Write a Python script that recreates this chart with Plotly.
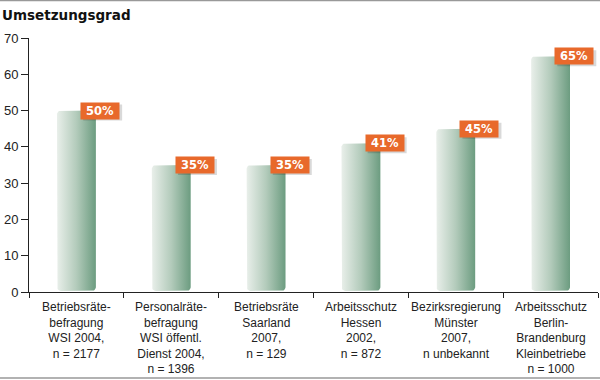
import math
import plotly.graph_objects as go

categories = [
    "Betriebsräte-<br>befragung<br>WSI 2004,<br>n = 2177",
    "Personalräte-<br>befragung<br>WSI öffentl.<br>Dienst 2004,<br>n = 1396",
    "Betriebsräte<br>Saarland<br>2007,<br>n = 129",
    "Arbeitsschutz<br>Hessen<br>2002,<br>n = 872",
    "Bezirksregierung<br>Münster<br>2007,<br>n unbekannt",
    "Arbeitsschutz<br>Berlin-<br>Brandenburg<br>Kleinbetriebe<br>n = 1000",
]
values = [50, 35, 35, 41, 45, 65]
labels = ["50%", "35%", "35%", "41%", "45%", "65%"]
y_ticks = [0, 10, 20, 30, 40, 50, 60, 70]

W, H = 600, 380
ML, MR, MT, MB = 29, 2, 38, 88
pw, ph = W - ML - MR, H - MT - MB
xr = (-0.5, len(categories) - 0.5)
yr = (0, 70)
px_x = pw / (xr[1] - xr[0])
px_y = ph / (yr[1] - yr[0])

half = 0.205
rad = 4.0
rx, ry = rad / px_x, rad / px_y

fig = go.Figure()
for i, v in enumerate(values):
    x0, x1 = i - half, i + half
    y0, y1 = 0.3, v
    xs, ys = [], []
    corners = [(x1 - rx, y1 - ry, 0, 90), (x0 + rx, y1 - ry, 90, 180),
               (x0 + rx, y0 + ry, 180, 270), (x1 - rx, y0 + ry, 270, 360)]
    for cx, cy, a0, a1 in corners:
        for k in range(7):
            a = math.radians(a0 + (a1 - a0) * k / 6)
            xs.append(cx + rx * math.cos(a))
            ys.append(cy + ry * math.sin(a))
    xs.append(xs[0]); ys.append(ys[0])
    fig.add_trace(go.Scatter(
        x=xs, y=ys, mode="lines", fill="toself", line=dict(width=0),
        fillgradient=dict(type="horizontal",
                          colorscale=[[0, "#e9efea"], [0.5, "#b3cbbb"], [1, "#6c9c80"]]),
        hoverinfo="skip", showlegend=False))

shapes = [
    dict(type="line", xref="paper", yref="paper", x0=-ML / pw, x1=1 + MR / pw,
         y0=1 + (MT - 0.5) / ph, y1=1 + (MT - 0.5) / ph, line=dict(color="#999", width=1.5)),
    dict(type="line", xref="paper", yref="paper", x0=-ML / pw, x1=1 + MR / pw,
         y0=-(MB - 2) / ph, y1=-(MB - 2) / ph, line=dict(color="#999", width=1.5)),
]
annotations = []
for i, (v, t) in enumerate(zip(values, labels)):
    shapes.append(dict(type="rect", xref="x", yref="y", xsizemode="pixel", ysizemode="pixel",
                       xanchor=i + 0.25, yanchor=v, x0=-17, x1=22, y0=-10, y1=6,
                       fillcolor="rgba(0,0,0,0.15)", line=dict(width=0), layer="above"))
    annotations.append(dict(x=i + 0.25, y=v, xref="x", yref="y",
                            text="<b>" + t + "</b>", showarrow=False,
                            font=dict(size=11.5, color="white", family="DejaVu Sans"),
                            bgcolor="#e8692b", borderpad=0, width=38, height=16))
for i, c in enumerate(categories):
    annotations.append(dict(x=i, y=0, xref="x", yref="paper", text=c, showarrow=False,
                            yanchor="top", yshift=-6, align="center",
                            font=dict(size=12, color="#222", family="Liberation Sans")))
annotations.append(dict(x=0, y=1, xref="paper", yref="paper", xanchor="left", yanchor="bottom",
                        xshift=-ML, yshift=13, text="<b>Umsetzungsgrad</b>", showarrow=False,
                        font=dict(size=13.5, color="#111", family="DejaVu Sans")))

fig.update_layout(
    width=W, height=H, margin=dict(l=ML, r=MR, t=MT, b=MB),
    paper_bgcolor="white", plot_bgcolor="white",
    annotations=annotations, shapes=shapes,
    xaxis=dict(range=list(xr), tickvals=[k - 0.5 for k in range(len(categories) + 1)],
               ticktext=[""] * (len(categories) + 1), ticks="outside", ticklen=5,
               tickcolor="#222", showline=True, linecolor="#222", linewidth=1,
               showgrid=False, zeroline=False, fixedrange=True),
    yaxis=dict(range=list(yr), tickvals=y_ticks, ticks="outside", ticklen=7,
               tickcolor="#222", showline=True, linecolor="#222", linewidth=1,
               showgrid=False, zeroline=False,
               tickfont=dict(size=13, color="#222", family="Liberation Sans")),
)
fig.write_html("out.html", config={"displayModeBar": False},
               post_script="document.body.style.margin='0px';")
